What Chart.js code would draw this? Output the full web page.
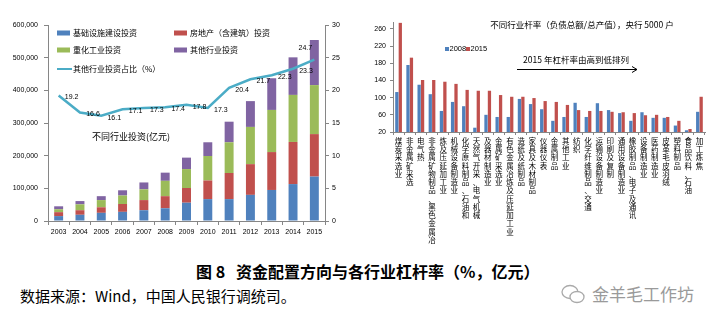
<!DOCTYPE html>
<html>
<head>
<meta charset="utf-8">
<script src="https://cdn.jsdelivr.net/npm/chart.js@4.4.1/dist/chart.umd.min.js"></script>
<style>
  body { margin: 0; background: #fff; width: 721px; height: 324px; position: relative; overflow: hidden; font-family: "Noto Sans CJK SC", sans-serif; }
  #leftChart { position: absolute; left: 0; top: 0; }
  #rightChart { position: absolute; left: 360px; top: 0; }
  .caption { position: absolute; left: 196px; top: 259px; font-size: 16px; font-weight: bold; white-space: pre; color: #000; }
  .source { position: absolute; left: 20px; top: 285px; font-size: 15px; color: #000; }
  .mark { position: absolute; left: 560px; top: 281px; font-size: 17px; color: #9a9a9a; display: flex; align-items: center; }
  .mark svg { margin-right: 6px; }
</style>
</head>
<body>
<canvas id="leftChart" width="360" height="250"></canvas>
<canvas id="rightChart" width="361" height="250"></canvas>
<div class="caption">图 8   资金配置方向与各行业杠杆率（%，亿元）</div>
<div class="source">数据来源：Wind，中国人民银行调统司。</div>
<div class="mark"><svg width="26" height="22" viewBox="0 0 26 22"><ellipse cx="10" cy="9" rx="8" ry="6.5" fill="none" stroke="#aaa" stroke-width="1.3"/><ellipse cx="17" cy="14" rx="7" ry="5.5" fill="#fff" stroke="#aaa" stroke-width="1.3"/></svg>金羊毛工作坊</div>
<script>
// ---- левый график: инвестиции по направлениям (亿元) ----
const years = ["2003", "2004", "2005", "2006", "2007", "2008", "2009", "2010", "2011", "2012", "2013", "2014", "2015"];
const infraInvest = [15000, 19000, 25000, 28000, 33000, 39000, 56000, 67000, 67000, 80000, 95000, 113000, 136000];
const realEstateInvest = [12000, 14000, 17000, 24000, 31000, 37000, 45000, 57000, 80000, 94000, 116000, 129000, 130000];
const heavyInvest = [9000, 18000, 22000, 26000, 33000, 47000, 58000, 75000, 94000, 114000, 129000, 144000, 150000];
const otherInvest = [9000, 10000, 12000, 16000, 21000, 25000, 35000, 42000, 63000, 79000, 97000, 115000, 138000];
const otherShare = [19.2, 16.6, 16.1, 17.1, 17.3, 17.4, 17.8, 17.3, 20.4, 21.7, 22.3, 23.3, 24.7];

// ---- правый график: леверидж по отраслям ----
const industries = [
  "煤炭采选业", "非金属矿采选", "电气热", "非金属矿物制品、黑色金属冶", "炼及压延加工业",
  "机械设备制造业", "化学原料制品、石油和", "天然气开采、电气机械", "及器材制造业", "金属矿采选业",
  "有色金属冶炼及压延加工业", "造纸及纸制品", "家具及木材制品", "仪器仪表", "金属制品",
  "其他工业", "纺织", "化学纤维制品、交通", "运输设备制造业", "印刷及复制",
  "通用设备制造业", "橡胶制品、电子及通讯", "设备制造业", "医药制造业", "皮革毛皮羽绒",
  "塑料制品", "食品饮料、石油", "加工炼焦"
];
const lev2008 = [113, 176, 130, 108, 69, 90, 80, 30, 60, 55, 55, 97, 85, 73, 46, 55, 88, 55, 87, 71, 64, 46, 66, 53, 53, 35, 24, 67];
const lev2015 = [274, 193, 141, 141, 137, 132, 118, 116, 116, 106, 102, 102, 99, 92, 90, 83, 71, 69, 69, 67, 66, 64, 59, 60, 55, 46, 27, 102];
const levTicks = [20, 60, 100, 140, 180, 220, 260];

const numFont = { family: "'Liberation Sans', Arial, sans-serif", size: 7 };
const cjkFont = "'Noto Sans CJK SC', sans-serif";
const axisColor = "#868686";

// подписи и легенда левого графика
const leftDecor = {
  id: "leftDecor",
  afterDatasetsDraw(chart) {
    const ctx = chart.ctx;
    const meta = chart.getDatasetMeta(4);
    ctx.save();
    ctx.fillStyle = "#000";
    ctx.font = "7px 'Liberation Sans', Arial, sans-serif";
    ctx.textAlign = "center";
    ctx.textBaseline = "middle";
    meta.data.forEach((pt, i) => {
      let dx = 13, dy = 2;
      if (i === meta.data.length - 1) { dx = -9; dy = -12; }
      ctx.fillText(otherShare[i].toFixed(1), pt.x + dx, pt.y + dy);
    });

    // легенда внутри области графика
    const items = [
      { ds: 0, x: 57, y: 33 }, { ds: 1, x: 174, y: 33 },
      { ds: 2, x: 57, y: 50 }, { ds: 3, x: 174, y: 50 },
      { ds: 4, x: 57, y: 69, line: true }
    ];
    ctx.font = "8px " + cjkFont;
    ctx.textAlign = "left";
    items.forEach((it) => {
      const ds = chart.data.datasets[it.ds];
      if (it.line) {
        ctx.strokeStyle = ds.borderColor;
        ctx.lineWidth = 2;
        ctx.beginPath();
        ctx.moveTo(it.x, it.y);
        ctx.lineTo(it.x + 15, it.y);
        ctx.stroke();
      } else {
        ctx.fillStyle = ds.backgroundColor;
        ctx.fillRect(it.x, it.y - 2.5, 13, 5);
      }
      ctx.fillStyle = "#000";
      ctx.fillText(ds.label, it.x + 16, it.y);
    });

    ctx.textAlign = "center";
    ctx.font = "9px " + cjkFont;
    ctx.fillText("不同行业投资(亿元)", 131, 137);
    ctx.restore();
  }
};

new Chart(document.getElementById("leftChart"), {
  type: "bar",
  data: {
    labels: years,
    datasets: [
      { label: "基础设施建设投资", data: infraInvest, backgroundColor: "#4F81BD", order: 1 },
      { label: "房地产（含建筑）投资", data: realEstateInvest, backgroundColor: "#C0504D", order: 1 },
      { label: "重化工业投资", data: heavyInvest, backgroundColor: "#9BBB59", order: 1 },
      { label: "其他行业投资", data: otherInvest, backgroundColor: "#8064A2", order: 1 },
      {
        type: "line", label: "其他行业投资占比（%）", data: otherShare, yAxisID: "y1",
        borderColor: "#4BACC6", borderWidth: 2.5, pointRadius: 0, tension: 0, order: 0
      }
    ]
  },
  options: {
    responsive: false,
    animation: false,
    layout: { padding: { top: 25, left: 0, right: 0, bottom: 0 } },
    datasets: { bar: { categoryPercentage: 1, barPercentage: 0.42 } },
    plugins: { legend: { display: false }, tooltip: { enabled: false } },
    scales: {
      x: {
        stacked: true,
        grid: { display: true, drawOnChartArea: false, tickLength: 4, color: axisColor },
        border: { color: axisColor },
        ticks: { font: numFont, color: "#000", padding: 3, maxRotation: 0, autoSkip: false },
        afterFit: (s) => { s.height = 29; }
      },
      y: {
        stacked: true, min: 0, max: 600000,
        ticks: { stepSize: 100000, font: numFont, color: "#000", padding: 6 },
        grid: { drawOnChartArea: false, tickLength: 4, color: axisColor },
        border: { color: axisColor },
        afterFit: (s) => { s.width = 48; }
      },
      y1: {
        position: "right", min: 0, max: 30,
        ticks: { stepSize: 5, font: numFont, color: "#000", padding: 3 },
        grid: { drawOnChartArea: false, tickLength: 4, color: axisColor },
        border: { color: axisColor },
        afterFit: (s) => { s.width = 35; }
      }
    }
  },
  plugins: [leftDecor]
});

// заголовок, легенда и стрелка правого графика
const rightDecor = {
  id: "rightDecor",
  afterDraw(chart) {
    const ctx = chart.ctx;
    ctx.save();
    ctx.fillStyle = "#000";
    ctx.textBaseline = "middle";
    ctx.textAlign = "center";
    ctx.font = "8.5px " + cjkFont;
    ctx.fillText("不同行业杆率（负债总额/总产值），央行 5000 户", 222, 25);
    ctx.fillText("2015 年杠杆率由高到低排列", 216, 60);

    ctx.strokeStyle = "#000";
    ctx.lineWidth = 1;
    ctx.beginPath();
    ctx.moveTo(157, 69.5); ctx.lineTo(277, 69.5);
    ctx.moveTo(272, 66.5); ctx.lineTo(277, 69.5); ctx.lineTo(272, 72.5);
    ctx.stroke();

    // легенда
    const ds = chart.data.datasets;
    ctx.textAlign = "left";
    ctx.font = "7.5px 'Liberation Sans', Arial, sans-serif";
    ctx.fillStyle = ds[0].backgroundColor; ctx.fillRect(85, 47, 4, 4);
    ctx.fillStyle = "#000"; ctx.fillText(ds[0].label, 89.5, 49);
    ctx.fillStyle = ds[1].backgroundColor; ctx.fillRect(106, 47, 4, 4);
    ctx.fillStyle = "#000"; ctx.fillText(ds[1].label, 110.5, 49);
    ctx.restore();
  }
};

new Chart(document.getElementById("rightChart"), {
  type: "bar",
  data: {
    labels: industries.map((s) => s.split("")),
    datasets: [
      { label: "2008", data: lev2008, backgroundColor: "#4F81BD" },
      { label: "2015", data: lev2015, backgroundColor: "#C0504D" }
    ]
  },
  options: {
    responsive: false,
    animation: false,
    layout: { padding: { top: 22, left: 0, right: 16, bottom: 0 } },
    datasets: { bar: { categoryPercentage: 0.62, barPercentage: 0.95 } },
    plugins: { legend: { display: false }, tooltip: { enabled: false } },
    scales: {
      x: {
        grid: { display: true, drawOnChartArea: false, tickLength: 3, color: axisColor },
        border: { color: axisColor },
        ticks: {
          font: { family: cjkFont, size: 7.5, lineHeight: 1.1 }, color: "#000",
          padding: 2, maxRotation: 0, minRotation: 0, autoSkip: false
        },
        afterFit: (s) => { s.height = 118; }
      },
      y: {
        min: 20, max: 276,
        afterBuildTicks: (s) => { s.ticks = levTicks.map((v) => ({ value: v })); },
        ticks: { font: numFont, color: "#000", padding: 4 },
        grid: { drawOnChartArea: false, tickLength: 3, color: axisColor },
        border: { color: axisColor },
        afterFit: (s) => { s.width = 33; }
      }
    }
  },
  plugins: [rightDecor]
});
</script>
</body>
</html>
